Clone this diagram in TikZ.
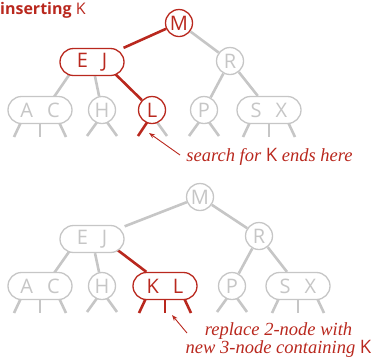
\documentclass[tikz,border=0pt]{standalone}
\usepackage{fontspec}
\setmainfont{Liberation Serif}
\newfontfamily\keyfont{Open Sans}
\newfontfamily\titlefont{Open Sans}
\usetikzlibrary{backgrounds,arrows.meta}
\definecolor{redc}{RGB}{185,40,30}
\definecolor{grayc}{RGB}{198,198,198}
\begin{document}
\begin{tikzpicture}[x=1pt,y=-1pt,
  key/.style={font=\keyfont\fontsize{20}{20}\selectfont, inner sep=0pt, fill=white, line width=1.3pt},
  two/.style={key, circle, minimum size=27pt},
  three/.style={key, rectangle, rounded corners=13.5pt, minimum width=64pt, minimum height=27pt},
  cold/.style={draw=grayc, text=grayc},
  hot/.style={draw=redc, text=redc},
  link/.style={line width=2.6pt},
  note/.style={font=\itshape\fontsize{18.5}{18}\selectfont, text=redc, inner sep=0pt},
  pointer/.style={draw=redc, line width=0.9pt, -{Stealth[length=6pt,width=4.5pt]}}]
\useasboundingbox (0,0) rectangle (382,360);

% title
\node[anchor=base west, inner sep=0pt, text=redc] (title) at (0,14)
  {\titlefont\bfseries\fontsize{16}{16}\selectfont inserting \mdseries\keyfont K};

% ---------- top tree ----------
\node[two,hot] (M) at (179,23) {M};
\node[three,hot] (EJ) at (92,62) {E\hspace{14pt}J};
\node[two,cold] (R) at (230,61) {R};
\node[three,cold] (AC) at (40,110) {A\hspace{14pt}C};
\node[two,cold] (H) at (102,110) {H};
\node[two,hot] (L) at (152,110) {L};
\node[two,cold] (P) at (204,110) {P};
\node[three,cold] (SX) at (269,110) {S\hspace{14pt}X};

\begin{scope}[on background layer]
  \draw[link,draw=redc] (M) -- (EJ);
  \draw[link,draw=grayc] (M) -- (R);
  \draw[link,draw=grayc] ([xshift=-14pt]EJ.center) -- ([xshift=5pt]AC.center);
  \draw[link,draw=grayc] (EJ) -- (H);
  \draw[link,draw=redc] ([xshift=11pt]EJ.center) -- (L);
  \draw[link,draw=grayc] (R) -- (P);
  \draw[link,draw=grayc] (R) -- (SX);
  % stubs
  \foreach \n in {AC,SX}{
    \draw[link,draw=grayc] ([shift={(-18,10)}]\n.center) -- ([shift={(-26,27)}]\n.center);
    \draw[link,draw=grayc] ([shift={(0,10)}]\n.center) -- ([shift={(0,27)}]\n.center);
    \draw[link,draw=grayc] ([shift={(18,10)}]\n.center) -- ([shift={(26,27)}]\n.center);
  }
  \foreach \n in {H,P}{
    \draw[link,draw=grayc] ([shift={(-2,8)}]\n.center) -- ([shift={(-15,26)}]\n.center);
    \draw[link,draw=grayc] ([shift={(2,8)}]\n.center) -- ([shift={(15,26)}]\n.center);
  }
  \draw[link,draw=redc] ([shift={(-2,8)}]L.center) -- ([shift={(-14,26)}]L.center);
  \draw[link,draw=grayc] ([shift={(2,8)}]L.center) -- ([shift={(15,26)}]L.center);
\end{scope}

\node[note, anchor=base] (lbl1) at (269.5,161) {search for {\upshape\keyfont K} ends here};
\coordinate (tail1) at (180,155);
\coordinate (tip1) at (149,133);
\draw[pointer] (tail1) -- (tip1);

% ---------- bottom tree ----------
\node[two,cold] (bM) at (200,197) {M};
\node[three,cold] (bEJ) at (92,239) {E\hspace{14pt}J};
\node[two,cold] (bR) at (259,236) {R};
\node[three,cold] (bAC) at (40,286) {A\hspace{14pt}C};
\node[two,cold] (bH) at (102,286) {H};
\node[three,hot] (bKL) at (165,286) {K\hspace{14pt}L};
\node[two,cold] (bP) at (232,286) {P};
\node[three,cold] (bSX) at (298,286) {S\hspace{14pt}X};

\begin{scope}[on background layer]
  \draw[link,draw=grayc] (bM) -- (bEJ);
  \draw[link,draw=grayc] (bM) -- (bR);
  \draw[link,draw=grayc] ([xshift=-14pt]bEJ.center) -- ([xshift=5pt]bAC.center);
  \draw[link,draw=grayc] (bEJ) -- (bH);
  \draw[link,draw=redc] ([xshift=11pt]bEJ.center) -- (bKL);
  \draw[link,draw=grayc] (bR) -- (bP);
  \draw[link,draw=grayc] (bR) -- (bSX);
  \foreach \n in {bAC,bSX}{
    \draw[link,draw=grayc] ([shift={(-18,10)}]\n.center) -- ([shift={(-26,27)}]\n.center);
    \draw[link,draw=grayc] ([shift={(0,10)}]\n.center) -- ([shift={(0,27)}]\n.center);
    \draw[link,draw=grayc] ([shift={(18,10)}]\n.center) -- ([shift={(26,27)}]\n.center);
  }
  \draw[link,draw=redc] ([shift={(-18,10)}]bKL.center) -- ([shift={(-26,27)}]bKL.center);
  \draw[link,draw=redc] ([shift={(0,10)}]bKL.center) -- ([shift={(0,27)}]bKL.center);
  \draw[link,draw=redc] ([shift={(18,10)}]bKL.center) -- ([shift={(26,27)}]bKL.center);
  \foreach \n in {bH,bP}{
    \draw[link,draw=grayc] ([shift={(-2,8)}]\n.center) -- ([shift={(-15,26)}]\n.center);
    \draw[link,draw=grayc] ([shift={(2,8)}]\n.center) -- ([shift={(15,26)}]\n.center);
  }
\end{scope}

\node[note, anchor=base, align=center] (lbl2) at (278.5,353)
  {replace 2-node with\\new 3-node containing {\upshape\keyfont K}};
\coordinate (tail2) at (187,333);
\coordinate (tip2) at (172,315);
\draw[pointer] (tail2) -- (tip2);
\end{tikzpicture}
\end{document}
